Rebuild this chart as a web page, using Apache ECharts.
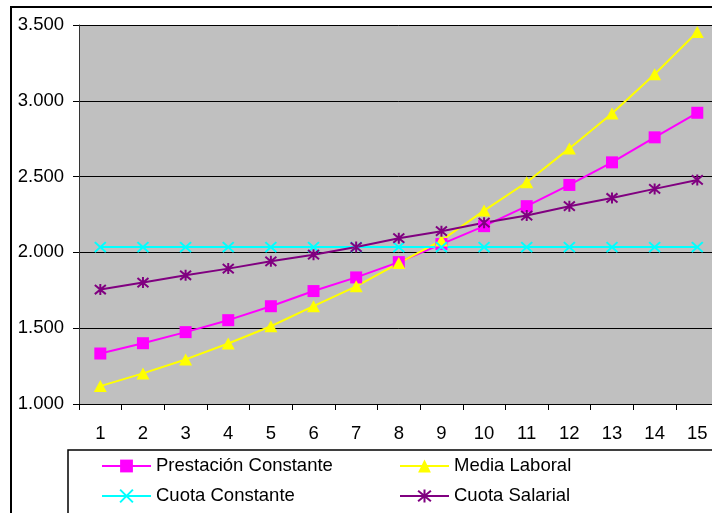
<!DOCTYPE html>
<html>
<head>
<meta charset="utf-8">
<script src="https://cdn.jsdelivr.net/npm/echarts@6/dist/echarts.min.js"></script>
<style>
  html, body { margin: 0; padding: 0; overflow: hidden; background: #fff; }
  #chart { width: 740px; height: 513px; }
</style>
</head>
<body>
<div id="chart"></div>
<script>
// Years of the projection
const categories = ['1','2','3','4','5','6','7','8','9','10','11','12','13','14','15'];

// Series values
const prestacionConstante = [1333, 1401, 1474, 1553, 1645, 1745, 1835, 1936, 2055, 2173, 2305, 2445, 2594, 2759, 2921];
const mediaLaboral        = [1118, 1202, 1294, 1399, 1513, 1645, 1776, 1930, 2079, 2276, 2463, 2686, 2916, 3175, 3454];
const cuotaConstante      = [2035, 2035, 2035, 2035, 2035, 2035, 2035, 2035, 2035, 2035, 2035, 2035, 2035, 2035, 2035];
const cuotaSalarial       = [1755, 1801, 1849, 1893, 1941, 1985, 2035, 2094, 2140, 2196, 2243, 2305, 2359, 2419, 2478];

const seriesNames = ['Prestación Constante', 'Media Laboral', 'Cuota Constante', 'Cuota Salarial'];

const FONT = 'Liberation Sans, Arial, sans-serif';
const xPath = 'path://M0 0L10 10M10 0L0 10';
const starPath = 'path://M0 0L10 10M10 0L0 10M5 -1L5 11';

const chart = echarts.init(document.getElementById('chart'), null, { renderer: 'canvas' });

function lineSeries(name, data, color, symbol, size, strokeOnly) {
  return {
    name: name,
    type: 'line',
    data: data,
    symbol: symbol,
    symbolSize: size,
    showAllSymbol: true,
    lineStyle: { color: color, width: 2 },
    itemStyle: strokeOnly
      ? { color: color, borderColor: color, borderWidth: 2 }
      : { color: color, borderWidth: 0 },
    emphasis: { disabled: true }
  };
}

const legendText = { color: '#000', fontFamily: FONT, fontSize: 18.5, lineHeight: 20 };

chart.setOption({
  animation: false,
  backgroundColor: '#ffffff',
  grid: {
    left: 79, top: 25, width: 639.6, height: 379,
    show: true, backgroundColor: '#C0C0C0', borderWidth: 0
  },
  xAxis: {
    type: 'category',
    data: categories,
    boundaryGap: true,
    axisLine: { lineStyle: { color: '#000', width: 1 } },
    axisTick: { show: true, length: 6, lineStyle: { color: '#000' } },
    axisLabel: { color: '#000', fontFamily: FONT, fontSize: 18.5, margin: 20 }
  },
  yAxis: {
    type: 'value',
    min: 1000, max: 3500, interval: 500,
    axisLine: { show: true, lineStyle: { color: '#333', width: 1 } },
    axisTick: { show: true, length: 6, lineStyle: { color: '#000' } },
    splitLine: { show: true, lineStyle: { color: '#000', width: 1 } },
    axisLabel: {
      color: '#000', fontFamily: FONT, fontSize: 18.5, margin: 15,
      formatter: v => (v / 1000).toFixed(3)
    }
  },
  legend: [
    {
      data: [seriesNames[0], seriesNames[2]],
      orient: 'vertical', left: 101, top: 456,
      itemWidth: 49, itemHeight: 16, itemGap: 10, padding: 0,
      textStyle: legendText
    },
    {
      data: [seriesNames[1], seriesNames[3]],
      orient: 'vertical', left: 399, top: 456,
      itemWidth: 49, itemHeight: 16, itemGap: 10, padding: 0,
      textStyle: legendText
    }
  ],
  graphic: [
    {
      type: 'rect', silent: true, z: -10,
      shape: { x: 11, y: 7, width: 718, height: 600 },
      style: { fill: null, stroke: '#000', lineWidth: 2 }
    },
    {
      type: 'rect', silent: true, z: -5,
      shape: { x: 68, y: 450, width: 700, height: 100 },
      style: { fill: null, stroke: '#000', lineWidth: 1.5 }
    }
  ],
  series: [
    lineSeries(seriesNames[0], prestacionConstante, '#FF00FF', 'rect', 12, false),
    lineSeries(seriesNames[1], mediaLaboral, '#FFFF00', 'triangle', [13, 12], false),
    lineSeries(seriesNames[2], cuotaConstante, '#00FFFF', xPath, [11, 10], true),
    lineSeries(seriesNames[3], cuotaSalarial, '#800080', starPath, [11, 11], true)
  ]
});
</script>
</body>
</html>
